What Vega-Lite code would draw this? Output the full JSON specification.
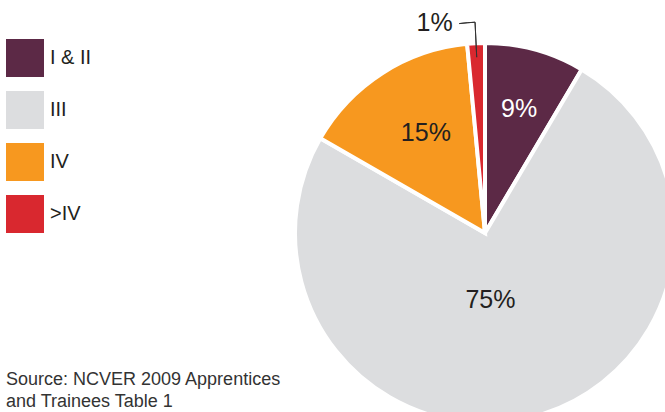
{
  "$schema": "https://vega.github.io/schema/vega-lite/v6.json",
  "width": 360,
  "height": 358,
  "autosize": {"type": "none"},
  "padding": {"left": 305, "top": 54, "right": 0, "bottom": 0},
  "background": "white",
  "data": {
    "values": [
      {"category": "I & II", "value": 8.5, "label": "9%", "order": 1},
      {"category": "III", "value": 74.8, "label": "75%", "order": 2},
      {"category": "IV", "value": 15.2, "label": "15%", "order": 3},
      {"category": ">IV", "value": 1.5, "label": "1%", "order": 4}
    ]
  },
  "title": {
    "text": ["Source: NCVER 2009 Apprentices", "and Trainees Table 1"],
    "orient": "bottom",
    "anchor": "start",
    "frame": "group",
    "dx": -299,
    "dy": -75,
    "offset": 0,
    "baseline": "top",
    "fontSize": 18,
    "font": "Liberation Sans",
    "fontWeight": "normal",
    "color": "#333333",
    "lineHeight": 22
  },
  "encoding": {
    "theta": {"field": "value", "type": "quantitative", "stack": true},
    "order": {"field": "order", "type": "quantitative"}
  },
  "layer": [
    {
      "mark": {"type": "arc", "radius": 190, "stroke": "white", "strokeWidth": 4},
      "encoding": {
        "color": {
          "field": "category",
          "type": "nominal",
          "scale": {
            "domain": ["I & II", "III", "IV", ">IV"],
            "range": ["#5c2946", "#dcdddf", "#f7981f", "#d9282f"]
          },
          "legend": {
            "orient": "none",
            "legendX": -299,
            "legendY": -15,
            "title": null,
            "padding": 0,
            "symbolType": "square",
            "symbolSize": 1444,
            "symbolStrokeWidth": 0,
            "rowPadding": 14,
            "labelOffset": 6,
            "labelFont": "Liberation Sans",
            "labelFontSize": 20,
            "labelColor": "#231f20"
          }
        }
      }
    },
    {
      "mark": {"type": "arc", "innerRadius": 176, "radius": 211, "padAngle": 0.2, "fill": "transparent", "strokeWidth": 1},
      "encoding": {
        "stroke": {"condition": {"test": "datum.category === '>IV'", "value": "#333333"}, "value": "transparent"}
      }
    },
    {
      "mark": {"type": "arc", "innerRadius": 211, "radius": 211, "padAngle": 0.0136, "thetaOffset": -0.0375, "fill": "transparent", "strokeWidth": 1},
      "encoding": {
        "stroke": {"condition": {"test": "datum.category === '>IV'", "value": "#333333"}, "value": "transparent"}
      }
    },
    {
      "mark": {"type": "text", "radius": 129, "font": "Liberation Sans", "fontSize": 25, "color": "white"},
      "encoding": {
        "text": {"condition": {"test": "datum.category === 'I & II'", "field": "label"}, "value": ""}
      }
    },
    {
      "mark": {"type": "text", "radius": 116, "thetaOffset": 0.037, "font": "Liberation Sans", "fontSize": 25, "color": "#231f20"},
      "encoding": {
        "text": {"condition": {"test": "datum.category === 'IV'", "field": "label"}, "value": ""}
      }
    },
    {
      "mark": {"type": "text", "radius": 67, "thetaOffset": 0.176, "font": "Liberation Sans", "fontSize": 25, "color": "#231f20"},
      "encoding": {
        "text": {"condition": {"test": "datum.category === 'III'", "field": "label"}, "value": ""}
      }
    },
    {
      "mark": {"type": "text", "radius": 216, "thetaOffset": -0.188, "font": "Liberation Sans", "fontSize": 25, "color": "#231f20"},
      "encoding": {
        "text": {"condition": {"test": "datum.category === '>IV'", "field": "label"}, "value": ""}
      }
    }
  ],
  "config": {"view": {"stroke": null}}
}
